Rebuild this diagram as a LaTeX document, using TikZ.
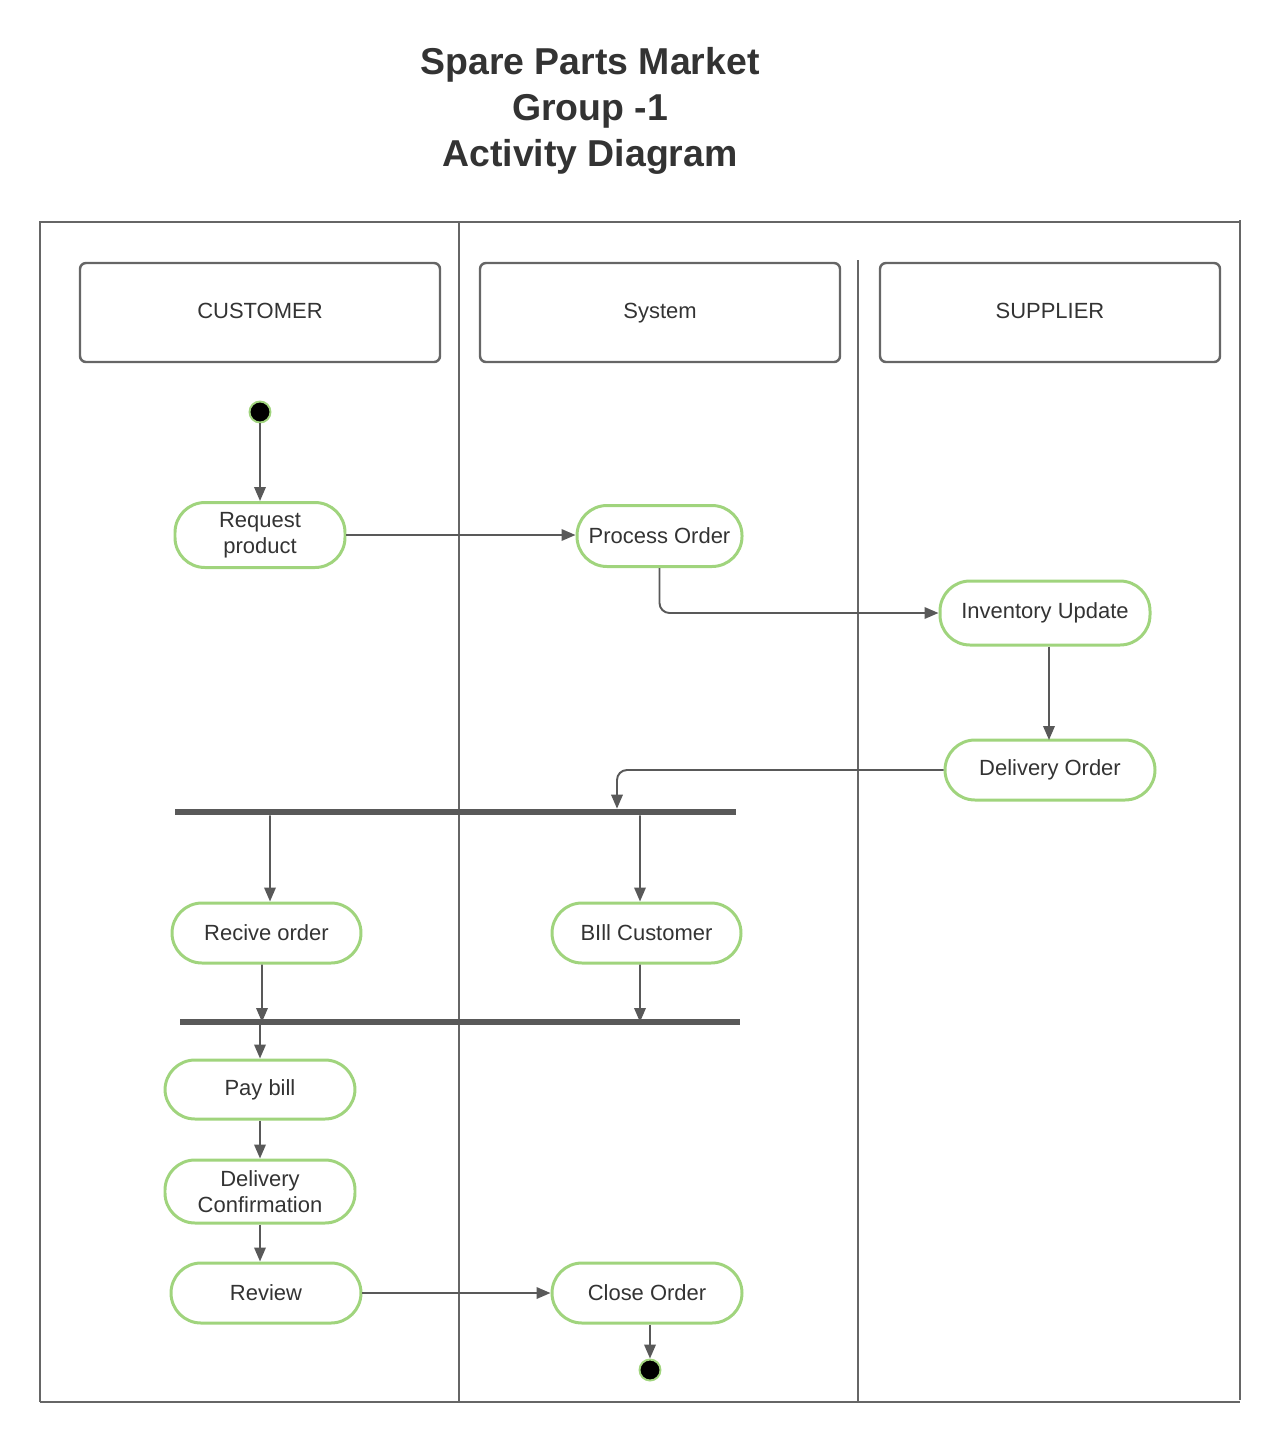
\documentclass[tikz,border=0pt]{standalone}
\usepackage{fontspec}
\setmainfont{Liberation Sans}
\usepackage{tikz}
\usetikzlibrary{positioning,arrows.meta}
\definecolor{txt}{RGB}{51,51,51}
\definecolor{lnLine}{RGB}{102,102,102}
\definecolor{flLine}{RGB}{89,89,89}
\definecolor{actLine}{RGB}{160,212,125}

\begin{document}
\begin{tikzpicture}[font=\fontsize{12.5}{14.7}\selectfont,text=txt,
  lane/.style={draw=lnLine,line width=1.1pt},
  head/.style={draw=lnLine,line width=1.4pt,rounded corners=0.12cm,minimum height=1.98cm,inner sep=0pt,text height=9pt,text depth=2.6pt},
  act/.style={draw=actLine,line width=1.7pt,rounded corners=0.6cm,align=center,inner sep=0pt,minimum height=1.22cm},
  initst/.style={circle,fill=black,draw=actLine,line width=1.1pt,minimum size=0.42cm,inner sep=0pt},
  bar/.style={fill=flLine,inner sep=0pt,minimum height=0.12cm},
  flow/.style={draw=flLine,line width=1.1pt,-{Triangle[length=0.28cm,width=0.23cm]}}]

\useasboundingbox (0,0) rectangle (25.6,-28.86);

\node[font=\fontsize{21.3}{26.1}\selectfont\bfseries,align=center] (title) at (11.8,-2.22)
  {Spare Parts Market\\Group -1\\Activity Diagram};

\draw[lane] (0.8,-28.04) -- (0.8,-4.44) -- (24.8,-4.44);
\draw[lane] (24.8,-4.4) -- (24.8,-28.0);
\draw[lane] (0.8,-28.04) -- (24.8,-28.04);
\draw[lane] (9.18,-4.44) -- (9.18,-28.04);
\draw[lane] (17.16,-5.2) -- (17.16,-28.04);

\node[head,minimum width=7.2cm] (hcust) at (5.2,-6.25) {CUSTOMER};
\node[head,minimum width=7.2cm] (hsys)  at (13.2,-6.25) {System};
\node[head,minimum width=6.8cm] (hsup)  at (21.0,-6.25) {SUPPLIER};

\node[initst] (start) at (5.2,-8.24) {};
\node[act,minimum width=3.4cm,minimum height=1.3cm] (req) at (5.2,-10.7) {Request\\product};
\node[act,minimum width=3.3cm] (proc) at (13.19,-10.72) {Process Order};
\node[act,minimum width=4.2cm,minimum height=1.28cm] (inv) at (20.9,-12.26) {Inventory Update};
\node[act,minimum width=4.2cm,minimum height=1.2cm] (deliv) at (21.0,-15.4) {Delivery Order};

\node[bar,minimum width=11.22cm] (fork) at (9.11,-16.24) {};
\node[act,minimum width=3.78cm,minimum height=1.2cm] (recv) at (5.33,-18.66) {Recive order};
\node[act,minimum width=3.78cm,minimum height=1.2cm] (bill) at (12.93,-18.66) {BIll Customer};
\node[bar,minimum width=11.2cm] (join) at (9.2,-20.44) {};

\node[act,minimum width=3.8cm,minimum height=1.18cm] (pay) at (5.2,-21.79) {Pay bill};
\node[act,minimum width=3.8cm,minimum height=1.26cm] (conf) at (5.2,-23.83) {Delivery\\Confirmation};
\node[act,minimum width=3.8cm,minimum height=1.2cm] (rev) at (5.32,-25.86) {Review};
\node[act,minimum width=3.8cm,minimum height=1.2cm] (close) at (12.94,-25.86) {Close Order};
\node[initst] (stop) at (13.0,-27.4) {};

\draw[flow] (start) -- (req);
\draw[flow] (req.east) -- (req.east -| proc.west);
\draw[flow,rounded corners=0.2cm] (proc.south) |- (inv.west);
\draw[flow] (inv.south -| 20.98,0) -- (20.98,-14.8);
\draw[flow,rounded corners=0.2cm] (deliv.west) -| ([xshift=3.23cm]fork.north);
\draw[flow] ([xshift=-3.71cm]fork.south) -- ([xshift=0.07cm]recv.north);
\draw[flow] ([xshift=3.69cm]fork.south) -- ([xshift=-0.13cm]bill.north);
\draw[flow] ([xshift=-0.09cm]recv.south) -- ([xshift=-3.96cm]join.center);
\draw[flow] ([xshift=-0.13cm]bill.south) -- ([xshift=3.6cm]join.center);
\draw[flow] (join.center -| pay.north) -- (pay.north);
\draw[flow] (pay) -- (conf);
\draw[flow] (conf) -- (conf.south |- rev.north);
\draw[flow] (rev) -- (close);
\draw[flow] (close.south -| stop) -- (stop);
\end{tikzpicture}
\end{document}
